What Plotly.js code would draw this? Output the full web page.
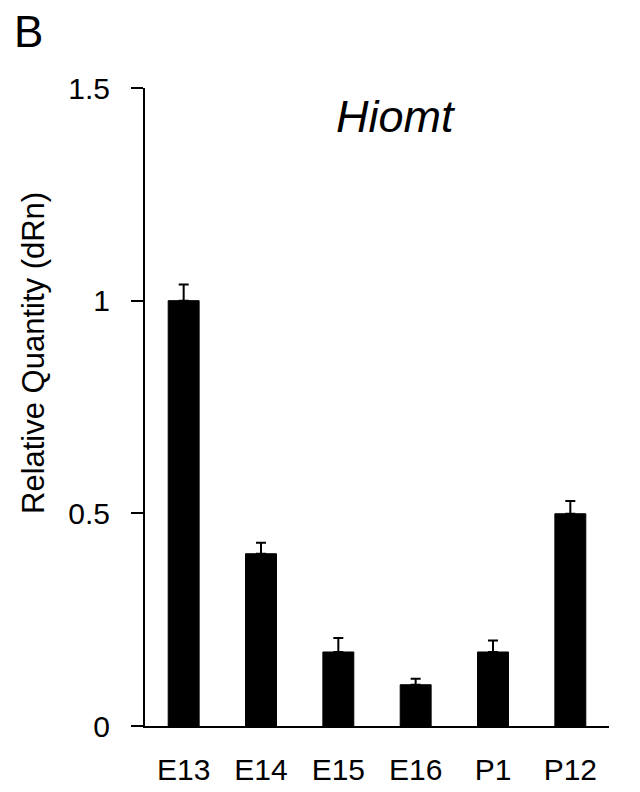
<!DOCTYPE html>
<html>
<head>
<meta charset="utf-8">
<script src="https://cdn.plot.ly/plotly-3.0.1.min.js"></script>
<style>html,body{margin:0;padding:0;background:#fff;}#chart{width:640px;height:792px;}</style>
</head>
<body>
<div id="chart"></div>
<script>
var categories = ["E13", "E14", "E15", "E16", "P1", "P12"];
var values = [1.0, 0.405, 0.174, 0.097, 0.174, 0.499];
var errorsUp = [0.038, 0.026, 0.033, 0.014, 0.027, 0.030];
var yTickVals = [0, 0.5, 1, 1.5];
var yTickText = ["0", "0.5", "1", "1.5"];

var font = "Arial, 'Liberation Sans', sans-serif";

var trace = {
  type: "bar",
  x: categories,
  y: values,
  marker: {color: "#000000", line: {color: "#000000", width: 1}},
  error_y: {type: "data", symmetric: false, array: errorsUp, arrayminus: errorsUp.map(function(){return 0;}), color: "#000000", thickness: 2, width: 5},
  hoverinfo: "none"
};

var layout = {
  width: 640, height: 792,
  margin: {l: 145, r: 31, t: 88, b: 66, pad: 0},
  paper_bgcolor: "#ffffff", plot_bgcolor: "#ffffff",
  showlegend: false,
  bargap: 0.6,
  font: {family: font, color: "#000000", size: 30},
  xaxis: {
    type: "category", range: [-0.5, 5.5],
    showline: true, linecolor: "#000000", linewidth: 2,
    ticks: "", showgrid: false, zeroline: false,
    tickfont: {family: font, size: 30, color: "#000000"},
    ticklabelstandoff: 16
  },
  yaxis: {
    range: [0, 1.5], fixedrange: true,
    tickvals: yTickVals, ticktext: yTickText,
    showline: true, linecolor: "#000000", linewidth: 2,
    ticks: "outside", ticklen: 12, tickwidth: 2, tickcolor: "#000000",
    showgrid: false, zeroline: false,
    tickfont: {family: font, size: 30, color: "#000000"},
    ticklabelstandoff: 15
  },
  annotations: [
    {text: "Relative Quantity (dRn)", textangle: -90, xref: "paper", yref: "paper",
     x: (33 - 145) / 464, y: (726 - 353) / 638, xanchor: "center", yanchor: "middle",
     showarrow: false, font: {family: font, size: 31, color: "#000000"}},
    {text: "<i>Hiomt</i>", xref: "paper", yref: "paper",
     x: (396 - 145) / 464, y: (726 - 117) / 638, xanchor: "center", yanchor: "middle",
     showarrow: false, font: {family: font, size: 45, color: "#000000"}},
    {text: "B", xref: "paper", yref: "paper",
     x: (28 - 145) / 464, y: (726 - 31) / 638, xanchor: "center", yanchor: "middle",
     showarrow: false, font: {family: font, size: 44, color: "#000000"}}
  ]
};

Plotly.newPlot("chart", [trace], layout, {staticPlot: true, displayModeBar: false});
</script>
</body>
</html>
